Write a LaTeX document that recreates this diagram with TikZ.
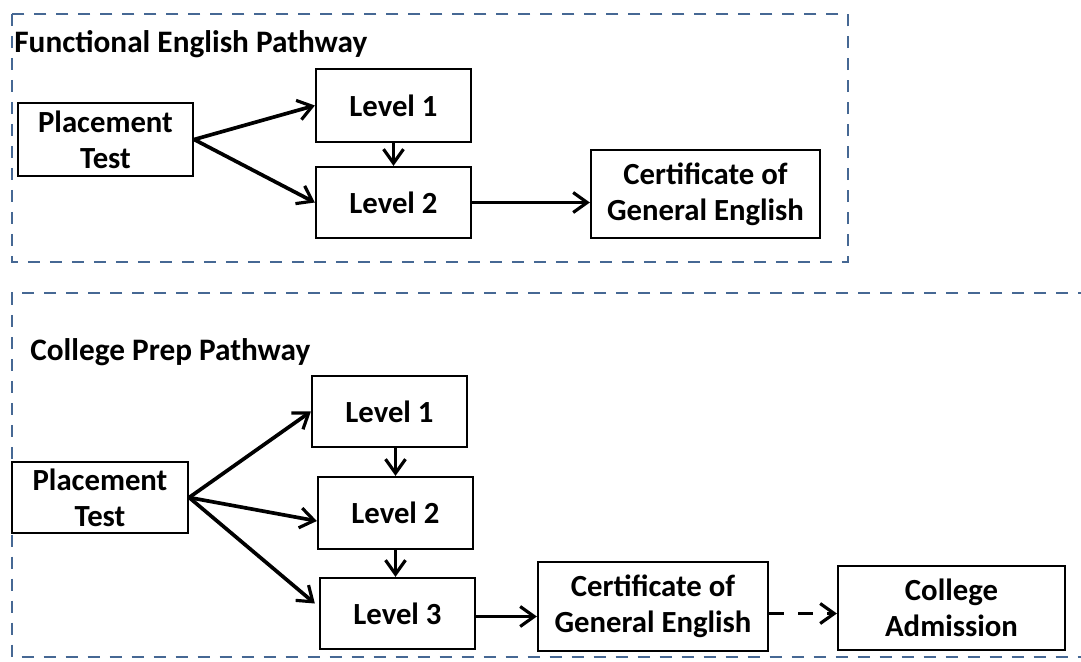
\documentclass[tikz,border=0pt]{standalone}
\usepackage{fontspec}
\setmainfont{Carlito}
\usepackage{xcolor}
\usepackage{tikz}
\usetikzlibrary{arrows.meta,positioning,calc}
\definecolor{framecol}{RGB}{70,104,148}

\begin{document}
\begin{tikzpicture}[
    x=0.02cm, y=-0.02cm,
    font=\bfseries\fontsize{17.5}{20.5}\selectfont,
    stagebox/.style={draw, line width=1.3pt, align=center, inner sep=2pt},
    pathtitle/.style={anchor=west, inner sep=0pt, font=\bfseries\fontsize{17.8}{21}\selectfont},
    frame/.style={draw=framecol, line width=1.4pt, dash pattern=on 0.24cm off 0.2cm},
    arrow/.style={-{Straight Barb[length=2.8mm, width=4mm, line width=1.8pt]}, line width=2.1pt}
  ]
    \useasboundingbox (0,0) rectangle (1081,662);

    % Functional English pathway
    \draw[frame] (12,14) rectangle (848,262);
    \node[pathtitle] (t1) at (14,44) {Functional English Pathway};

    \node[stagebox, minimum width=3.5cm, minimum height=1.46cm] (pt1) at (105.5,139.5) {Placement\\Test};
    \node[stagebox, minimum width=3.1cm, minimum height=1.46cm] (fl1) at (393.5,105.5) {Level 1};
    \node[stagebox, minimum width=3.1cm, minimum height=1.42cm] (fl2) at (393.5,202.5) {Level 2};
    \node[stagebox, minimum width=4.58cm, minimum height=1.76cm] (fcert) at (705.5,194) {Certificate of\\General English};

    \draw[arrow] (pt1.east) -- (fl1.west);
    \draw[arrow] (pt1.east) -- (fl2.west);
    \draw[arrow] (fl1.south) -- (fl2.north);
    \draw[arrow] (fl2.east) -- (fl2.east -| fcert.west);

    % College prep pathway
    \draw[frame] (1090,293) -- (12,293) -- (12,657) -- (1090,657);
    \node[pathtitle] (t2) at (30,352) {College Prep Pathway};

    \node[stagebox, minimum width=3.52cm, minimum height=1.42cm] (pt2) at (100,497.5) {Placement\\Test};
    \node[stagebox, minimum width=3.1cm, minimum height=1.42cm] (cl1) at (389.5,411.5) {Level 1};
    \node[stagebox, minimum width=3.1cm, minimum height=1.44cm] (cl2) at (395.5,513) {Level 2};
    \node[stagebox, minimum width=3.1cm, minimum height=1.42cm] (cl3) at (397.5,613.5) {Level 3};
    \node[stagebox, minimum width=4.6cm, minimum height=1.78cm] (ccert) at (653,606.5) {Certificate of\\General English};
    \node[stagebox, minimum width=4.54cm, minimum height=1.68cm] (adm) at (951.5,608) {College\\Admission};

    \draw[arrow] (pt2.east) -- (cl1.west);
    \draw[arrow] (pt2.east) -- ($(cl2.west)+(0,8)$);
    \draw[arrow] (pt2.east) -- ($(cl3.west)+(-4,-10)$);
    \draw[arrow] (cl2.north |- cl1.south) -- (cl2.north);
    \draw[arrow] (cl2.south) -- (cl2.south |- cl3.north);
    \draw[arrow] ($(cl3.east)+(0,3)$) -- ($(cl3.east -| ccert.west)+(0,3)$);
    \draw[arrow, dash pattern=on 0.3cm off 0.28cm] ($(ccert.east)+(0,7)$) -- ($(ccert.east -| adm.west)+(0,7)$);
  \end{tikzpicture}
\end{document}
